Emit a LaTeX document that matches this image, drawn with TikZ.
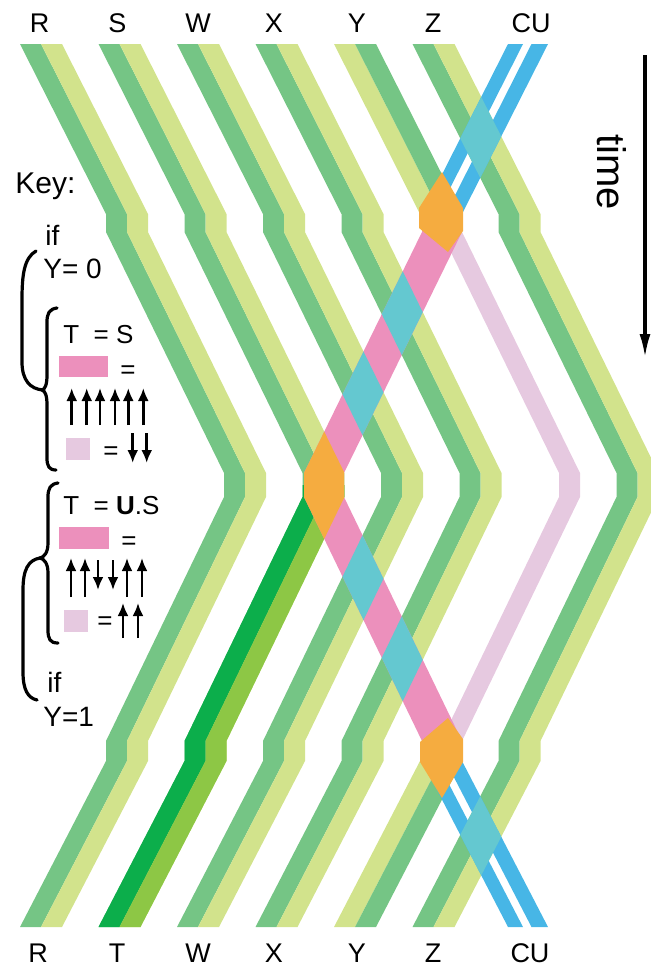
\documentclass[tikz,border=0pt]{standalone}
\usepackage{fontspec}
\setmainfont{Liberation Sans}
\usetikzlibrary{arrows.meta,positioning}

\definecolor{dgreen}{HTML}{75C585}
\definecolor{lgreen}{HTML}{D2E38C}
\definecolor{tdark}{HTML}{0CAE4B}
\definecolor{tlight}{HTML}{8DC745}
\definecolor{cublue}{HTML}{47B6E6}
\definecolor{xcyan}{HTML}{64C8D0}
\definecolor{xorange}{HTML}{F5AC40}
\definecolor{kpink}{HTML}{EC90BC}
\definecolor{klav}{HTML}{E6C9E0}

% band of a qubit pair: #1 column, #2/#3 left/right offset
\newcommand{\chevpath}[3]{({#1+#2},44) -- ({#1+#2+86},214) -- ({#1+#2+86},232) -- ({#1+#2+204},473) -- ({#1+#2+204},497) -- ({#1+#2+86},741) -- ({#1+#2+86},761) -- ({#1+#2},927) -- ({#1+#3},927) -- ({#1+#3+86},761) -- ({#1+#3+86},741) -- ({#1+#3+204},497) -- ({#1+#3+204},473) -- ({#1+#3+86},232) -- ({#1+#3+86},214) -- ({#1+#3},44) -- cycle}
% band of the control unit, mirrored
\newcommand{\cupath}[2]{({508+#1},44) -- ({422+#1},214) -- ({422+#1},232) -- ({304+#1},473) -- ({304+#1},497) -- ({422+#1},741) -- ({422+#1},761) -- ({508+#1},927) -- ({508+#2},927) -- ({422+#2},761) -- ({422+#2},741) -- ({304+#2},497) -- ({304+#2},473) -- ({422+#2},232) -- ({422+#2},214) -- ({508+#2},44) -- cycle}

\begin{document}
\begin{tikzpicture}[x=0.5pt,y=-0.5pt]

   \tikzstyle{lbl} = [inner sep=0pt, anchor=base, font=\fontsize{13.5}{16}\selectfont]
   \tikzstyle{keytxt} = [inner sep=0pt, anchor=base west, font=\fontsize{14}{17}\selectfont]
   \tikzstyle{keysm} = [inner sep=0pt, anchor=base west, font=\fontsize{13}{16}\selectfont]
   \tikzstyle{spin} = [line width=1.4pt, -{Latex[length=6.5pt,width=5.5pt]}]
   \tikzstyle{brace} = [line width=1.6pt, line cap=round]

\useasboundingbox (0,0) rectangle (651,970);

% qubit pairs
\foreach \x in {20,98.5,177,255.5,412.5} {
    \fill[dgreen] \chevpath{\x}{0}{21};
    \fill[lgreen] \chevpath{\x}{21}{42};
}
\begin{scope}
    \clip (0,0) rectangle (651,222) (0,749) rectangle (651,970);
    \fill[lgreen] \chevpath{334}{0}{21};
    \fill[dgreen] \chevpath{334}{21}{42};
\end{scope}
\begin{scope}
    \clip (0,485) rectangle (651,970);
    \fill[tdark] \chevpath{98.5}{0}{21};
    \fill[tlight] \chevpath{98.5}{21}{42};
\end{scope}

% control unit
\begin{scope}
    \clip (0,222) rectangle (651,749);
    \fill[klav] \chevpath{334}{21}{42};
    \fill[kpink] \cupath{0}{40};
\end{scope}
\begin{scope}
    \clip (0,0) rectangle (651,222) (0,749) rectangle (651,970);
    \fill[cublue] \cupath{0}{15};
    \fill[cublue] \cupath{23.5}{40};
\end{scope}

% crossings
\begin{scope}
    \clip \cupath{0}{40};
    \foreach \x in {177,255.5,412.5}
        \fill[xcyan] \chevpath{\x}{0}{42};
    \fill[xorange] \chevpath{98.5}{0}{42};
\end{scope}
\fill[xorange] (442,172) -- (463,208) -- (463,231) -- (448,252) -- (419,228) -- (419,208) -- cycle;
\fill[xorange] (442,798) -- (463,762) -- (463,739) -- (448,718) -- (420,742) -- (420,762) -- cycle;

\foreach \n/\x in {R/39.5,S/117.5,W/198,X/274,Y/357,Z/433,CU/531}
    \node[lbl] (top\n) at (\x,32) {\n};
\foreach \n/\x in {R/38,T/117,W/198,X/274,Y/357,Z/433,CU/530}
    \node[lbl] (bot\n) at (\x,962) {\n};

\node[inner sep=0pt, rotate=-90, font=\fontsize{20}{24}\selectfont] (timelbl) at (612,172) {time};
\coordinate (tstart) at (645,55);
\coordinate (tend) at (645,358);
\draw[line width=1.65pt, -{Latex[length=12pt,width=5.5pt]}] (tstart) -- (tend);

% key
\node[keytxt, font=\fontsize{15}{18}\selectfont] (key) at (15,193) {Key:};
\node[keytxt] (ifzero) at (45,245) {if};
\node[keytxt] (yzero) at (43,278) {Y= 0};
\node[keysm] (tis) at (63,343) {T\ \ = S};
\fill[kpink] (59,356) rectangle (108,377);
\node[keysm] (eqa) at (120,378) {=};
\foreach \x in {71.7,86.7,100,115,128.3,143.3}
    \draw[spin] (\x,425) -- (\x,388);
\fill[klav] (66,438) rectangle (90,460);
\node[keysm] (eqb) at (103,459) {=};
\foreach \x in {132.7,146.7}
    \draw[spin] (\x,433) -- (\x,463);

\node[keysm] (tus) at (63,514) {T\ \ = \textbf{U}.S};
\fill[kpink] (59,527) rectangle (109,549);
\node[keysm] (eqc) at (121,549) {=};
\foreach \x in {71,85,127,142}
    \draw[spin] (\x,597) -- (\x,558);
\foreach \x in {98,113}
    \draw[spin] (\x,560) -- (\x,590);
\fill[klav] (64,610) rectangle (88,632);
\node[keysm] (eqd) at (97,629) {=};
\foreach \x in {123,138}
    \draw[spin] (\x,638) -- (\x,603);
\node[keytxt] (ifone) at (47,692) {if};
\node[keytxt] (yone) at (43,726) {Y=1};

\draw[brace] (36,251) .. controls (24,258) and (22,275) .. (22,300) -- (22,362) .. controls (22,380) and (30,389) .. (43,390);
\draw[brace] (57,308) .. controls (49,309) and (47,314) .. (47,322) -- (47,375) .. controls (47,385) and (45,389) .. (42,390) .. controls (45,391) and (47,395) .. (47,405) -- (47,458) .. controls (47,466) and (49,470) .. (56,470);
\draw[brace] (58,483) .. controls (50,484) and (48,489) .. (48,497) -- (48,543) .. controls (48,553) and (44,557) .. (40,558) .. controls (44,559) and (48,563) .. (48,573) -- (48,630) .. controls (48,639) and (50,643) .. (58,643);
\draw[brace] (40,558) .. controls (28,560) and (23,570) .. (23,590) -- (23,672) .. controls (23,690) and (28,698) .. (37,700);
\end{tikzpicture}
\end{document}
